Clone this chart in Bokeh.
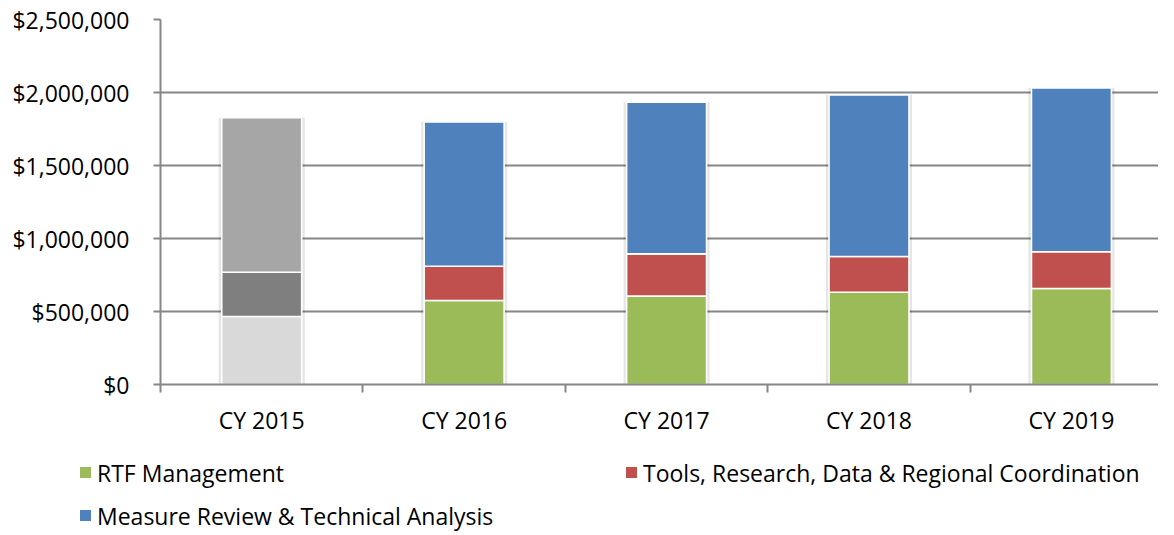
from bokeh.plotting import figure
from bokeh.layouts import column
from bokeh.models import (ColumnDataSource, Range1d, FixedTicker, NumeralTickFormatter, Div)
from bokeh.embed import file_html
from bokeh.resources import INLINE

years = ["CY 2015", "CY 2016", "CY 2017", "CY 2018", "CY 2019"]
rtf_management = [466000, 575000, 605000, 632000, 658000]
tools_research = [303000, 235000, 290000, 245000, 251000]
measure_review = [1058000, 989000, 1039000, 1107000, 1123000]

series_labels = ["RTF Management",
                 "Tools, Research, Data & Regional Coordination",
                 "Measure Review & Technical Analysis"]
series_colors = ["#9BBB59", "#C0504D", "#4F81BD"]
rtf_colors = ["#D9D9D9", "#9BBB59", "#9BBB59", "#9BBB59", "#9BBB59"]
tools_colors = ["#7F7F7F", "#C0504D", "#C0504D", "#C0504D", "#C0504D"]
measure_colors = ["#A6A6A6", "#4F81BD", "#4F81BD", "#4F81BD", "#4F81BD"]

FONT = "Open Sans"
FS = "23px"
x = [i + 0.5 for i in range(len(years))]
b1 = [0] * len(years)
t1 = rtf_management
t2 = [a + b for a, b in zip(t1, tools_research)]
t3 = [a + b for a, b in zip(t2, measure_review)]

p = figure(width=1158, height=440, output_backend="svg", toolbar_location=None,
           x_range=Range1d(0, 4.93), y_range=Range1d(0, 2500000),
           min_border_left=160, min_border_right=0, min_border_top=19,
           min_border_bottom=56)
p.outline_line_color = None
p.background_fill_color = "white"
p.border_fill_color = "white"

# soft shadow behind the bars
shadow = ColumnDataSource(dict(x=x, top=t3))
p.vbar(x="x", top="top", bottom=-8000, width=0.425, source=shadow,
       fill_color="#000000", fill_alpha=0.10, line_color=None)

bw = 0.395
for bottoms, tops, cols in [(b1, t1, rtf_colors), (t1, t2, tools_colors), (t2, t3, measure_colors)]:
    src = ColumnDataSource(dict(x=x, bottom=bottoms, top=tops, color=cols))
    p.vbar(x="x", bottom="bottom", top="top", width=bw, source=src,
           fill_color="color", line_color="white", line_width=1.6)

# axes
xa = p.xaxis[0]
xa.ticker = FixedTicker(ticks=x, minor_ticks=list(range(len(years) + 1)))
xa.major_label_overrides = {v: lab for v, lab in zip(x, years)}
xa.major_tick_line_color = None
xa.major_tick_out = 0
xa.major_tick_in = 0
xa.minor_tick_out = 8
xa.minor_tick_in = 0
xa.minor_tick_line_color = "#868686"
xa.minor_tick_line_width = 2
xa.axis_line_color = "#868686"
xa.axis_line_width = 2
xa.major_label_text_font = FONT
xa.major_label_text_font_size = FS
xa.major_label_text_color = "black"
xa.major_label_standoff = 11

ya = p.yaxis[0]
ya.ticker = FixedTicker(ticks=[0, 500000, 1000000, 1500000, 2000000, 2500000])
ya.formatter = NumeralTickFormatter(format="$0,0")
ya.major_tick_out = 7
ya.major_tick_in = 0
ya.minor_tick_line_color = None
ya.major_tick_line_color = "#868686"
ya.major_tick_line_width = 2
ya.axis_line_color = "#868686"
ya.axis_line_width = 2
ya.major_label_text_font = FONT
ya.major_label_text_font_size = FS
ya.major_label_text_color = "black"
ya.major_label_standoff = 24

p.xgrid.grid_line_color = None
p.ygrid.grid_line_color = "#868686"
p.ygrid.grid_line_width = 2

# legend (HTML) below the chart: two columns, row-major
legend_slots = [(80, 33), (626, 33), (80, 76)]   # (left, row centre) in px
order = [0, 1, 2]
parts = []
for (lx, cy), i in zip(legend_slots, order):
    parts.append(
        f'<div style="position:absolute;left:{lx}px;top:{cy - 6}px;width:11px;height:11px;'
        f'background:{series_colors[i]};"></div>'
        f'<div style="position:absolute;left:{lx + 17}px;top:{cy - 16}px;height:32px;'
        f'line-height:32px;font-family:\'{FONT}\';font-size:{FS};color:#000;'
        f'white-space:nowrap;">{series_labels[i].replace("&", "&amp;")}</div>'
    )
legend_html = ('<div style="position:relative;width:1158px;height:87px;overflow:visible;">'
               + "".join(parts) + "</div>")
legend_div = Div(text=legend_html, width=1158, height=87,
                 styles={"margin": "0", "padding": "0", "overflow": "visible"})

open("out.html", "w").write(file_html(column(p, legend_div, spacing=0), INLINE))
